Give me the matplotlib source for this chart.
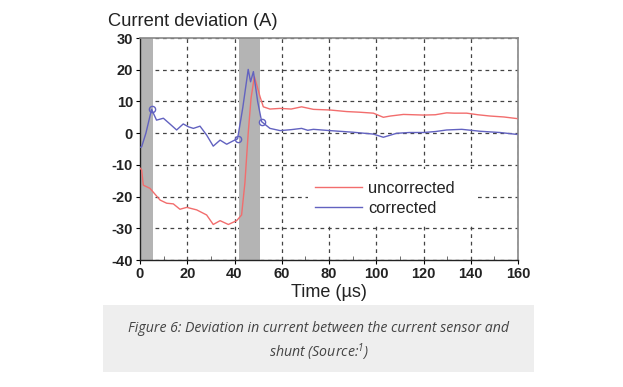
import matplotlib
matplotlib.use("Agg")
from matplotlib import pyplot as plt
from matplotlib.patches import Rectangle

# Data
t_unc = [0, 0.7, 1.4, 4.2, 8.5, 11.3, 14.1, 16.9, 19.8, 24, 28.2, 31, 33.9, 37.4, 40.9,
         43, 44.4, 45.8, 47, 48.4, 49.5, 50.8, 52.2, 55, 59.3, 64, 68.4, 73.4, 80.4,
         87.5, 93, 98.8, 103, 106, 111.5, 120, 125, 129.8, 133, 138.3, 143, 148.1,
         154, 159.5]
v_unc = [-11, -11.6, -16.4, -17.4, -21.1, -22.1, -22.3, -24, -23.4, -24.2, -25.8, -28.8,
         -27.6, -28.8, -27.6, -25.8, -15.7, 0.0, 11, 17.8, 15, 11.5, 8.3, 7.6, 7.8, 7.6,
         8.3, 7.5, 7.3, 6.8, 6.6, 6.3, 5.0, 5.4, 5.9, 5.7, 5.8, 6.4, 6.3, 6.3, 5.8, 5.4,
         5.1, 4.6]

t_cor = [0, 0.7, 2.5, 4.9, 7, 9.9, 12.5, 15.5, 18.3, 20.5, 22.6, 25.4, 28.2, 31, 33.9,
         36.7, 39.5, 41.3, 43.5, 45.8, 46.8, 48, 49.8, 51.5, 55, 59.3, 64, 68.4, 71,
         73.4, 80.4, 90, 98.8, 103, 108.6, 114, 120, 125, 129.8, 136.2, 143.9, 148,
         152.4, 159.5]
v_cor = [-4.5, -4.3, 0, 7.5, 4.1, 4.7, 3, 1.0, 2.9, 2.0, 1.5, 2.2, -0.6, -4.1, -2.2,
         -3.5, -2.4, -1.8, 8, 20.1, 16.2, 19.4, 10, 3.6, 1.5, 0.8, 1.1, 1.5, 0.9, 1.2,
         0.8, 0.3, -0.3, -1.3, -0.05, 0.2, 0.2, 0.5, 1.0, 1.2, 0.6, 0.4, 0.2, -0.4]

marker_t = [4.9, 41.3, 51.5]
marker_v = [7.5, -1.8, 3.6]

bands = [(0, 5.6), (41.7, 50.8)]

plt.rcParams['font.family'] = ['Liberation Sans', 'DejaVu Sans']
plt.rcParams['axes.unicode_minus'] = False
plt.rcParams['mathtext.fontset'] = 'custom'
plt.rcParams['mathtext.rm'] = 'Open Sans:italic'
plt.rcParams['mathtext.it'] = 'Open Sans:italic'

fig = plt.figure(figsize=(6.23, 3.87), dpi=100)
ax = fig.add_axes([140 / 623, 1 - 260 / 387, 378 / 623, 222 / 387])

for a, b in bands:
    ax.axvspan(a, b, color='#b4b4b4', lw=0, zorder=1)

ax.plot(t_unc, v_unc, color='#f26d6d', lw=1.0, label='uncorrected', zorder=3)
ax.plot(t_cor, v_cor, color='#6262c0', lw=1.0, label='corrected', zorder=4)
ax.plot(marker_t, marker_v, 'o', mfc='none', mec='#6262c0', ms=4.5, mew=1.0, zorder=5)

ax.set_xlim(0, 160)
ax.set_ylim(-40, 30)
ax.set_xticks(range(0, 161, 20))
ax.set_yticks(range(-40, 31, 10))
ax.set_xticks(range(0, 161, 10), minor=True)
ax.set_yticks(range(-40, 31, 5), minor=True)
ax.tick_params(which='major', direction='out', length=3, labelsize=10.5, pad=2)
ax.tick_params(which='minor', direction='in', length=3, color='#555555')
for lab in ax.get_xticklabels() + ax.get_yticklabels():
    lab.set_fontweight('bold')
    lab.set_color('#222222')

ax.grid(True, which='major', color='#444444', linestyle=(0, (3, 3)), lw=0.9, zorder=2)
ax.set_axisbelow(True)

for s in ['top', 'right']:
    ax.spines[s].set_color('#888888')
    ax.spines[s].set_linewidth(1.2)
for s in ['left', 'bottom']:
    ax.spines[s].set_color('#222222')
    ax.spines[s].set_linewidth(1.0)

# white box behind the legend, hides the grid
ax.add_patch(Rectangle((71, -28.5), 71, 17.3, facecolor='white', edgecolor='none', zorder=2.7))
leg = ax.legend(loc='center left', bbox_to_anchor=(0.44, 0.277), frameon=False,
                fontsize=11.8, handlelength=2.9, handletextpad=0.35, labelspacing=0.3,
                borderpad=0)
for txt in leg.get_texts():
    txt.set_color('#222222')

fig.text(108 / 623, 1 - 21 / 387, 'Current deviation (A)', fontsize=13.2,
         color='#222222', va='center', ha='left')
ax.set_xlabel('Time (µs)', fontsize=13, color='#222222', labelpad=2)

fig.patches.append(Rectangle((103 / 623, 1 - 372 / 387), 431 / 623, 67 / 387,
                             transform=fig.transFigure, facecolor='#eeeeee',
                             edgecolor='none', zorder=0))
fig.text(319 / 623, 1 - 328 / 387,
         'Figure 6: Deviation in current between the current sensor and',
         fontsize=10.2, style='italic', family='Open Sans', color='#444444',
         ha='center', va='center')
fig.text(319 / 623, 1 - 352 / 387, 'shunt (Source:$^{1}$)',
         fontsize=10.2, style='italic', family='Open Sans', color='#444444',
         ha='center', va='center')

fig.savefig('out.png', dpi=100)
